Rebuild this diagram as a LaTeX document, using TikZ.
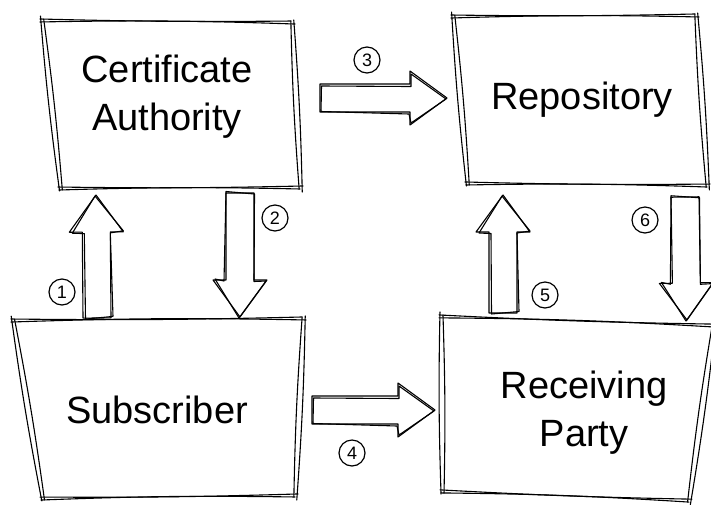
\documentclass[tikz,border=0pt]{standalone}
\usepackage{fontspec}
\setmainfont{Liberation Sans}
\usetikzlibrary{calc}
\newcommand\skline[5]{\draw[sk] ($(#1)!-#3!(#2)+(#4)$) to[bend left=#5] ($(#2)!-#3!(#1)+(#4)$);}
\newcommand\skbox[1]{%
  \skline{#1a}{#1b}{4pt}{0,0}{1.5}
  \skline{#1b}{#1c}{3pt}{0,0}{-1.5}
  \skline{#1c}{#1d}{4pt}{0,0}{1}
  \skline{#1d}{#1a}{3pt}{0,0}{-1.5}
  \skline{#1a}{#1b}{2pt}{-2,-3}{-1}
  \skline{#1b}{#1c}{5pt}{3,1}{1.5}
  \skline{#1c}{#1d}{2pt}{-1,3}{-1.5}
  \skline{#1d}{#1a}{5pt}{-3,-1}{1.5}}
\newcommand\blockarrow[2]{%
  \path ($(#2)!37pt!(#1)$) coordinate (hb);
  \draw[sk] ($(#1)!14pt!90:(#2)$) -- ($(hb)!14pt!90:(#2)$) -- ($(hb)!27pt!90:(#2)$) -- (#2)
    -- ($(hb)!27pt!-90:(#2)$) -- ($(hb)!14pt!-90:(#2)$) -- ($(#1)!14pt!-90:(#2)$) -- cycle;
  \draw[sk] ($(#1)!13pt!90:(#2)+(1.5,1)$) -- ($(hb)!13pt!90:(#2)+(1,1.5)$) -- ($(hb)!25pt!90:(#2)+(1,1)$) -- ($(#2)+(-1,1)$)
    -- ($(hb)!26pt!-90:(#2)+(1,-1)$) -- ($(hb)!15pt!-90:(#2)+(-1,1)$) -- ($(#1)!15pt!-90:(#2)+(1,-1.5)$) -- cycle;}
\begin{document}
\begin{tikzpicture}[x=1pt,y=-1pt,line join=round,line cap=round,
  sk/.style={line width=1.1pt},
  lbl/.style={font=\fontsize{38}{48}\selectfont,align=center},
  num/.style={circle,draw,line width=1.2pt,minimum size=26pt,inner sep=0pt,font=\fontsize{18}{18}\selectfont}]
\useasboundingbox (0,0) rectangle (711,504);
% box corners
\coordinate (caa) at (44,22);  \coordinate (cab) at (291,24); \coordinate (cac) at (299,186); \coordinate (cad) at (62,187);
\coordinate (rpa) at (455,18); \coordinate (rpb) at (695,17); \coordinate (rpc) at (706,184); \coordinate (rpd) at (469,182);
\coordinate (sba) at (15,322); \coordinate (sbb) at (302,320); \coordinate (sbc) at (294,494); \coordinate (sbd) at (44,497);
\coordinate (rva) at (443,318); \coordinate (rvb) at (712,327); \coordinate (rvc) at (688,499); \coordinate (rvd) at (444,490);
\skbox{ca}\skbox{rp}\skbox{sb}\skbox{rv}
% labels
\node[lbl] (ca) at (167,97) {Certificate\\Authority};
\node[lbl] (rp) at (582,100) {Repository};
\node[lbl] (sb) at (157,410) {Subscriber};
\node[lbl] (rv) at (584,413) {Receiving\\Party};
% arrow end points
\coordinate (a1s) at (97,318);  \coordinate (a1e) at (96,195);
\coordinate (a2s) at (240,193); \coordinate (a2e) at (240,317);
\coordinate (a3s) at (320,98);  \coordinate (a3e) at (447,98);
\coordinate (a4s) at (312,410); \coordinate (a4e) at (435,410);
\coordinate (a5s) at (503,313); \coordinate (a5e) at (503,195);
\coordinate (a6s) at (685,197); \coordinate (a6e) at (687,320);
\blockarrow{a1s}{a1e}
\blockarrow{a2s}{a2e}
\blockarrow{a3s}{a3e}
\blockarrow{a4s}{a4e}
\blockarrow{a5s}{a5e}
\blockarrow{a6s}{a6e}
% step numbers
\node[num] (n1) at (62,292) {1};
\node[num] (n2) at (275,218) {2};
\node[num] (n3) at (367,60) {3};
\node[num] (n4) at (352,453) {4};
\node[num] (n5) at (545,295) {5};
\node[num] (n6) at (645,220) {6};
\end{tikzpicture}
\end{document}
